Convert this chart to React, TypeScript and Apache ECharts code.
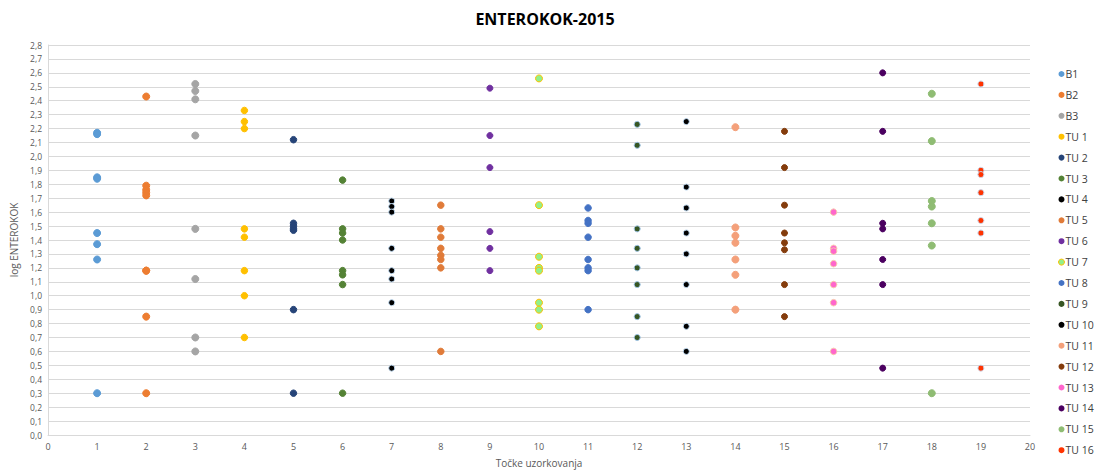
import React, { useEffect, useRef } from "react";
import * as echarts from "echarts";

const seriesNames = ["B1", "B2", "B3", "TU 1", "TU 2", "TU 3", "TU 4", "TU 5", "TU 6", "TU 7", "TU 8", "TU 9", "TU 10", "TU 11", "TU 12", "TU 13", "TU 14", "TU 15", "TU 16"];
const samplingPoints = [1, 2, 3, 4, 5, 6, 7, 8, 9, 10, 11, 12, 13, 14, 15, 16, 17, 18, 19];

const b1 = [2.17, 2.16, 1.85, 1.84, 1.45, 1.37, 1.26, 0.3];
const b2 = [2.43, 1.79, 1.76, 1.74, 1.72, 1.18, 1.18, 0.85, 0.3];
const b3 = [2.52, 2.47, 2.41, 2.15, 1.48, 1.12, 0.7, 0.6];
const tu1 = [2.33, 2.25, 2.2, 1.48, 1.42, 1.18, 1.0, 0.7];
const tu2 = [2.12, 1.52, 1.5, 1.48, 1.47, 0.9, 0.3];
const tu3 = [1.83, 1.48, 1.45, 1.4, 1.18, 1.15, 1.08, 0.3];
const tu4 = [1.68, 1.64, 1.6, 1.34, 1.18, 1.12, 0.95, 0.48];
const tu5 = [1.65, 1.48, 1.42, 1.34, 1.29, 1.26, 1.2, 0.6];
const tu6 = [2.49, 2.15, 1.92, 1.46, 1.34, 1.18];
const tu7 = [2.56, 1.65, 1.28, 1.2, 1.18, 0.95, 0.9, 0.78];
const tu8 = [1.63, 1.54, 1.52, 1.42, 1.26, 1.2, 1.18, 0.9];
const tu9 = [2.23, 2.08, 1.48, 1.34, 1.2, 1.08, 0.85, 0.7];
const tu10 = [2.25, 1.78, 1.63, 1.45, 1.3, 1.08, 0.78, 0.6];
const tu11 = [2.21, 1.49, 1.43, 1.38, 1.26, 1.15, 0.9];
const tu12 = [2.18, 1.92, 1.65, 1.45, 1.38, 1.33, 1.08, 0.85];
const tu13 = [1.6, 1.34, 1.32, 1.23, 1.08, 0.95, 0.6];
const tu14 = [2.6, 2.18, 1.52, 1.48, 1.26, 1.08, 0.48];
const tu15 = [2.45, 2.11, 1.68, 1.64, 1.52, 1.36, 0.3];
const tu16 = [2.52, 1.9, 1.87, 1.74, 1.54, 1.45, 0.48];

const values = [b1, b2, b3, tu1, tu2, tu3, tu4, tu5, tu6, tu7, tu8, tu9, tu10, tu11, tu12, tu13, tu14, tu15, tu16];

const fills = ["#5B9BD5", "#ED7D31", "#A5A5A5", "#FFC000", "#264478", "#548235", "#000000", "#E07B39", "#7030A0", "#92F08A", "#4472C4", "#375623", "#000000", "#F4A07A", "#843C0C", "#FF66CC", "#4B0060", "#8FBC73", "#FF3300"];
const borders = ["#5B9BD5", "#ED7D31", "#A5A5A5", "#FFC000", "#264478", "#548235", "#BDD7EE", "#E07B39", "#7030A0", "#FFC000", "#4472C4", "#9DC3E6", "#BDD7EE", "#F4A07A", "#843C0C", "#F8CBAD", "#4B0060", "#8FBC73", "#C9D3E8"];
const sizes = [7, 7, 7, 6.5, 6.5, 6.5, 6, 6.5, 6, 7, 6.5, 6, 6, 7, 6, 6.5, 6, 7, 6];

export default function App() {
  const ref = useRef<HTMLDivElement>(null);
  useEffect(() => {
    if (!ref.current) return;
    const chart = echarts.init(ref.current, null, { renderer: "svg" });
    const font = "'Open Sans', 'Noto Sans', sans-serif";
    chart.setOption({
      animation: false,
      backgroundColor: "#ffffff",
      title: {
        text: "ENTEROKOK-2015",
        left: 540,
        top: 6,
        textAlign: "center",
        textStyle: { fontFamily: font, fontSize: 16, fontWeight: "bold", color: "#000000" },
      },
      grid: { left: 48, right: 67, top: 45, bottom: 36, containLabel: false },
      legend: {
        orient: "vertical",
        left: 1053,
        top: 63,
        icon: "circle",
        itemWidth: 6,
        itemHeight: 6,
        itemGap: 8.9,
        itemStyle: { borderWidth: 0 },
        textStyle: { fontFamily: font, fontSize: 10.5, color: "#404040", lineHeight: 12, padding: [0, 0, 0, -4] },
        data: seriesNames.map((name) =>
          name === "TU 7"
            ? { name, itemStyle: { borderWidth: 1, borderColor: "#FFC000" } }
            : { name }
        ),
      },
      xAxis: {
        type: "value",
        min: 0,
        max: 20,
        interval: 1,
        name: "Točke uzorkovanja",
        nameLocation: "middle",
        nameGap: 23,
        nameTextStyle: { fontFamily: font, fontSize: 10, color: "#595959" },
        axisLine: { show: true, lineStyle: { color: "#D9D9D9" } },
        axisTick: { show: false },
        splitLine: { show: false },
        axisLabel: { fontFamily: font, fontSize: 9, color: "#595959", margin: 7 },
      },
      yAxis: {
        type: "value",
        min: 0,
        max: 2.8,
        interval: 0.1,
        name: "log ENTEROKOK",
        nameLocation: "middle",
        nameGap: 29,
        nameTextStyle: { fontFamily: font, fontSize: 10, color: "#595959" },
        axisLine: { show: true, lineStyle: { color: "#D9D9D9" } },
        axisTick: { show: false },
        splitLine: { show: true, lineStyle: { color: "#D9D9D9" } },
        axisLabel: {
          fontFamily: font,
          fontSize: 8.5,
          color: "#595959",
          margin: 6,
          formatter: (v: number) => v.toFixed(1).replace(".", ","),
        },
      },
      series: seriesNames.map((name, i) => ({
        name,
        type: "scatter",
        symbol: "circle",
        symbolSize: sizes[i],
        itemStyle: { color: fills[i], borderColor: borders[i], borderWidth: 1, opacity: 1 },
        data: values[i].map((v) => [samplingPoints[i], v]),
      })),
    });
    return () => chart.dispose();
  }, []);
  return <div ref={ref} style={{ position: "absolute", left: 0, top: 0, width: 1097, height: 473 }} />;
}
